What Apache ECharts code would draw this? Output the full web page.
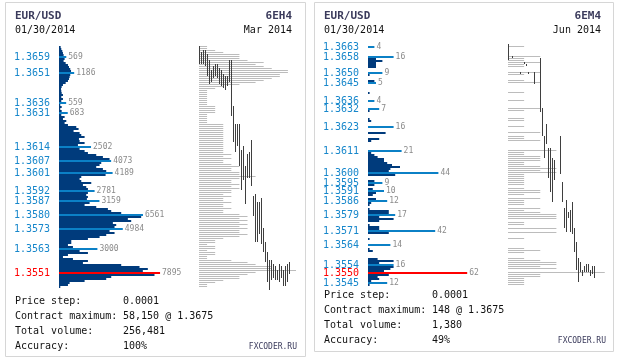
<!DOCTYPE html>
<html><head><meta charset="utf-8">
<script src="https://cdn.jsdelivr.net/npm/echarts@6/dist/echarts.min.js"></script>
<style>html,body{margin:0;padding:0;background:#fff}#c{width:617px;height:360px}</style>
</head><body><div id="c"></div>
<script>
// ---------- Panel 1: 6EH4 Mar 2014 (price levels in units of 0.0001, top -> bottom) ----------
var p1TopLevel = 13664;
var p1Volume = [
  130,180,260,310,360,569,440,360,520,700,
  780,880,940,1186,880,830,780,700,520,310,
  210,160,180,210,310,180,310,180,559,100,
  210,100,210,683,180,440,310,570,440,700,
  1350,1530,1140,1610,1740,2000,1560,1610,2000,1480,
  2502,1610,2000,2260,2910,3430,3950,4073,3300,3170,
  2910,3430,3690,4189,3640,1740,1610,1740,2520,1870,
  2130,2260,2781,2260,2130,2260,2180,3159,2390,2000,
  2910,3820,4080,4860,6561,6420,5380,5640,4210,4470,
  4340,4984,3950,4340,3690,3170,2260,960,960,700,
  1090,3000,1610,2260,700,310,1090,2260,1870,4860,
  6290,6940,6550,7895,7460,4080,3690,2000,830,700,
  100
];
var p1Labeled = [13659,13651,13636,13631,13614,13607,13601,13592,13587,13580,13573,13563];
var p1LastPrice = 13551;
var p1Tpo = [
  1,1,2,3,5,5,5,6,8,7,
  8,9,11,11,10,10,9,8,7,5,
  3,2,1,1,1,1,1,1,1,1,
  2,2,2,2,1,1,1,1,1,3,
  3,3,3,3,3,3,3,3,3,3,
  3,3,3,3,4,3,4,3,3,4,
  5,4,4,5,5,7,5,4,4,5,
  4,5,4,4,3,4,3,3,4,3,
  3,4,3,3,5,6,5,6,5,6,
  5,6,5,5,6,5,3,2,2,1,
  2,2,1,2,2,1,1,4,6,7,
  9,9,12,7,6,5,5,3,2,1,
  1
];
var p1DayHigh = [13664,13661,13662,13662,13660,13657,13652,13654,13655,13655,13653,13652,13650,13649,13649,13657,13657,13634,13625,13625,13625,13612,13614,13604,13610,13611,13617,13589,13590,13586,13586,13588,13573,13566,13561,13557,13557,13555,13554,13552,13555,13554,13552,13554,13555,13556];
var p1DayLow  = [13656,13656,13656,13655,13650,13646,13647,13649,13650,13649,13646,13645,13644,13643,13645,13647,13630,13617,13612,13615,13605,13593,13598,13586,13599,13599,13595,13580,13567,13567,13571,13566,13562,13557,13547,13543,13548,13549,13548,13548,13547,13549,13545,13545,13547,13551];
var p1Info = ['0.0001','58,150 @ 1.3675','256,481','100%'];

// ---------- Panel 2: 6EM4 Jun 2014 ----------
var p2TopLevel = 13663;
var p2Volume = [
  4,0,0,0,0,16,5,9,5,5,
  5,0,0,9,1,0,0,4,5,0,
  0,0,0,1,0,0,0,4,0,0,
  0,7,1,0,0,0,1,2,0,0,
  16,0,0,11,0,0,7,2,0,0,
  0,0,21,2,4,6,10,10,12,15,
  20,14,13,44,17,0,0,4,9,4,
  0,3,10,5,3,0,5,12,2,1,
  0,1,13,13,17,7,16,7,0,1,
  7,7,42,13,0,0,1,0,0,14,
  0,1,3,0,0,0,6,16,7,16,
  16,14,10,62,13,6,7,2,12,1
];
var p2Labeled = [13663,13658,13650,13645,13636,13632,13623,13611,13600,13595,13591,13586,13579,13571,13564,13554,13545];
var p2LastPrice = 13550;
var p2Tpo = [
  1,0,0,0,0,2,1,1,2,1,
  1,0,0,2,1,0,0,1,2,0,
  0,0,0,1,0,0,0,1,0,0,
  0,2,1,0,0,0,1,1,0,0,
  1,0,0,2,0,1,1,2,0,0,
  0,0,3,1,1,2,2,2,1,1,
  2,3,2,3,1,1,1,1,1,1,
  0,1,2,2,1,0,2,1,1,1,
  0,2,1,2,3,3,3,0,1,1,
  0,3,0,3,0,0,1,0,0,0,
  0,1,2,1,0,0,1,2,3,3,
  2,3,0,6,2,2,1,1,1,1
];
var p2DayHigh = [13664,null,13658,null,null,null,13650,null,13655,13654,13650,null,null,13650,null,null,13657,13632,13618,13624,13612,13612,13607,13606,null,null,13618,13595,13582,13586,13580,13581,13585,13572,13565,13557,13555,13551,13553,13554,13554,13551,13553,13553];
var p2DayLow  = [13657,null,13658,null,null,null,13650,null,13655,13654,13650,null,null,13645,null,null,13631,13619,13608,13615,13598,13591,13586,13597,null,null,13600,13586,13573,13571,13578,13571,13570,13561,13552,13546,13551,13549,13551,13551,13551,13549,13550,13548];
var p2Info = ['0.0001','148 @ 1.3675','1,380','49%'];

var infoLabels = ['Price step:','Contract maximum:','Total volume:','Accuracy:'];

// ---------- helpers ----------
var MONO = "'DejaVu Sans Mono','Liberation Mono',monospace";
var NAVY = '#003b7c', BLUE = '#0b80c6', RED = '#ff0000', LBLUE = '#1787cb';

function levels(top, n){ var a=[]; for(var i=0;i<n;i++) a.push(String(top-i)); return a; }
var lv1 = levels(p1TopLevel, p1Volume.length);
var lv2 = levels(p2TopLevel, p2Volume.length);

function histData(lv, vol, lab, last){
  return lv.map(function(p,i){
    var v = vol[i], pn = +p;
    if (!v) return '-';
    if (pn === last) return {value:v, itemStyle:{color:RED}, label:{show:true}};
    if (lab.indexOf(pn) >= 0) return {value:v, itemStyle:{color:BLUE}, label:{show:true}};
    return v;
  });
}
function tpoData(t){ return t.map(function(v){ return v ? v : '-'; }); }
function dayData(hi, lo){
  var d=[]; for (var k=0;k<hi.length;k++){ if (hi[k]!=null) d.push([k, hi[k], lo[k]]); } return d;
}
function priceFmt(lab, last){
  return function(val){
    var p = +val;
    if (p === last) return '{r|' + (p/10000).toFixed(4) + '}';
    if (lab.indexOf(p) >= 0) return '{b|' + (p/10000).toFixed(4) + '}';
    return '';
  };
}
function rangeRender(params, api){
  var x = api.value(0), hi = api.value(1), lo = api.value(2);
  var a = api.coord([x, hi + 0.5]), b = api.coord([x, lo - 0.5]);
  return {type:'rect', shape:{x:Math.round(a[0]), y:Math.round(a[1]), width:1, height:Math.max(1, Math.round(b[1]-a[1]))}, style:{fill:'#3f3f3f'}};
}
function hideAxis(extra){ var o={show:false}; for (var k in extra) o[k]=extra[k]; return o; }

var grids = [
  {left:59, top:46, width:128, height:2*lv1.length},
  {left:199, top:45.5, width:100, height:2*lv1.length},
  {left:199, top:46, width:100, height:2*lv1.length},
  {left:368, top:46, width:160, height:2*lv2.length},
  {left:508, top:45.5, width:100, height:2*lv2.length},
  {left:508, top:46, width:100, height:2*lv2.length}
];
grids.forEach(function(g){ g.containLabel=false; });

var labelAxis = function(gi, lv, lab, last){
  return {type:'category', gridIndex:gi, data:lv, inverse:true,
    axisLine:{show:false}, axisTick:{show:false}, splitLine:{show:false},
    axisLabel:{show:true, interval:0, margin:9, formatter:priceFmt(lab,last),
      rich:{b:{color:LBLUE, fontFamily:MONO, fontSize:10}, r:{color:RED, fontFamily:MONO, fontSize:10}}}};
};

var xAxes = [
  hideAxis({type:'value', gridIndex:0, min:0, max:10000}),
  hideAxis({type:'value', gridIndex:1, min:0, max:12.37}),
  hideAxis({type:'value', gridIndex:2, min:0, max:50}),
  hideAxis({type:'value', gridIndex:3, min:0, max:100}),
  hideAxis({type:'value', gridIndex:4, min:0, max:6.2}),
  hideAxis({type:'value', gridIndex:5, min:0, max:50})
];
var yAxes = [
  labelAxis(0, lv1, p1Labeled, p1LastPrice),
  hideAxis({type:'category', gridIndex:1, data:lv1, inverse:true}),
  hideAxis({type:'value', gridIndex:2, min:p1TopLevel-lv1.length+0.5, max:p1TopLevel+0.5}),
  labelAxis(3, lv2, p2Labeled, p2LastPrice),
  hideAxis({type:'category', gridIndex:4, data:lv2, inverse:true}),
  hideAxis({type:'value', gridIndex:5, min:p2TopLevel-lv2.length+0.5, max:p2TopLevel+0.5})
];

var valLabel = {show:false, position:'right', distance:2, color:'#8a8a8a', fontFamily:MONO, fontSize:8, formatter:'{c}'};

var series = [
  {type:'bar', xAxisIndex:0, yAxisIndex:0, barWidth:2, itemStyle:{color:NAVY}, label:valLabel, data:histData(lv1,p1Volume,p1Labeled,p1LastPrice), animation:false, silent:true},
  {type:'bar', xAxisIndex:1, yAxisIndex:1, barWidth:1, itemStyle:{color:'#bcbcbc'}, data:tpoData(p1Tpo), animation:false, silent:true},
  {type:'custom', xAxisIndex:2, yAxisIndex:2, renderItem:rangeRender, data:dayData(p1DayHigh,p1DayLow), animation:false, silent:true, z:5},
  {type:'bar', xAxisIndex:3, yAxisIndex:3, barWidth:2, itemStyle:{color:NAVY}, label:valLabel, data:histData(lv2,p2Volume,p2Labeled,p2LastPrice), animation:false, silent:true},
  {type:'bar', xAxisIndex:4, yAxisIndex:4, barWidth:1, itemStyle:{color:'#bcbcbc'}, data:tpoData(p2Tpo), animation:false, silent:true},
  {type:'custom', xAxisIndex:5, yAxisIndex:5, renderItem:rangeRender, data:dayData(p2DayHigh,p2DayLow), animation:false, silent:true, z:5}
];

function txt(x, y, s, font, fill, align){
  return {type:'text', x:x, y:y, silent:true, style:{text:s, font:font, fill:fill, textAlign:align||'left', align:align||'left', textVerticalAlign:'middle', verticalAlign:'middle'}};
}
var gfx = [
  {type:'rect', z:-10, silent:true, shape:{x:5.5, y:2.5, width:300, height:354}, style:{fill:'#fff', stroke:'#d6d6d6', lineWidth:1}},
  {type:'rect', z:-10, silent:true, shape:{x:314.5, y:2.5, width:299, height:349}, style:{fill:'#fff', stroke:'#d6d6d6', lineWidth:1}},
  txt(15, 16.5, 'EUR/USD', 'bold 11px '+MONO, '#3b3b5c'),
  txt(15, 30.5, '01/30/2014', '10px '+MONO, '#111'),
  txt(292, 16.5, '6EH4', 'bold 11px '+MONO, '#3b3b5c', 'right'),
  txt(292, 30.5, 'Mar 2014', '10px '+MONO, '#111', 'right'),
  txt(324, 16.5, 'EUR/USD', 'bold 11px '+MONO, '#3b3b5c'),
  txt(324, 30.5, '01/30/2014', '10px '+MONO, '#111'),
  txt(601, 16.5, '6EM4', 'bold 11px '+MONO, '#3b3b5c', 'right'),
  txt(601, 30.5, 'Jun 2014', '10px '+MONO, '#111', 'right'),
  txt(297, 347, 'FXCODER.RU', '8px '+MONO, '#3b3b5c', 'right'),
  txt(606, 341, 'FXCODER.RU', '8px '+MONO, '#3b3b5c', 'right')
];
infoLabels.forEach(function(l, i){
  gfx.push(txt(15, 301 + 15*i, l, '10px '+MONO, '#111'));
  gfx.push(txt(123, 301 + 15*i, p1Info[i], '10px '+MONO, '#111'));
  gfx.push(txt(324, 295.5 + 15*i, l, '10px '+MONO, '#111'));
  gfx.push(txt(432, 295.5 + 15*i, p2Info[i], '10px '+MONO, '#111'));
});

var chart = echarts.init(document.getElementById('c'), null, {renderer:'canvas'});
chart.setOption({
  animation:false,
  backgroundColor:'#ffffff',
  grid:grids, xAxis:xAxes, yAxis:yAxes, series:series,
  graphic:{elements:gfx}
});
</script></body></html>
